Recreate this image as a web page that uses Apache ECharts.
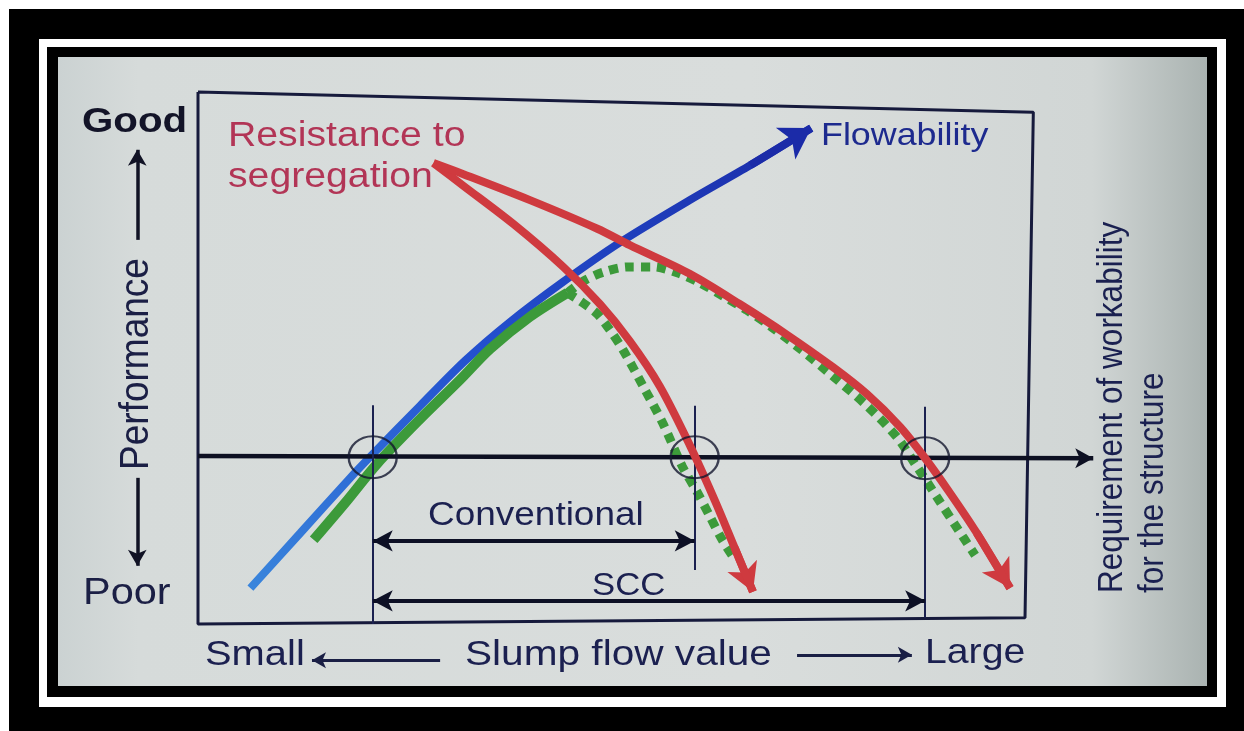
<!DOCTYPE html>
<html>
<head>
<meta charset="utf-8">
<title>Slump flow value and performance</title>
<script src="https://cdn.jsdelivr.net/npm/echarts@6/dist/echarts.min.js"></script>
<style>
  html, body { margin: 0; padding: 0; background: #fff; }
  #chart { width: 1244px; height: 731px; }
</style>
</head>
<body>
<div id="chart"></div>
<script>
// diagram units: x = slump flow (frame spans 0..100), y = performance (frame spans 0..100)
const flowability = [[6.3,6.4],[12.3,16.8],[18.3,27.2],[20.9,31.5],[26.7,40.8],[32.1,49.3],
  [37.5,56.6],[43.9,64.2],[50.8,71.7],[59.1,79.6],[66.4,86.2],[73.7,93.2]];
const segConventional = [[28.3,86.6],[31.9,82.3],[37.9,75.1],[43.9,67.0],[48.3,60.0],[51.9,53.0],
  [55.5,44.5],[59.1,33.4],[62.1,23.0],[64.5,14.0],[66.7,5.7]];
const segScc = [[28.3,86.6],[31.9,84.5],[39.9,79.6],[48.0,74.2],[51.9,71.1],[59.1,65.7],[65.1,60.0],
  [70.7,54.3],[76.3,48.1],[80.4,43.0],[84.4,36.8],[87.4,30.9],[90.4,24.3],[93.6,16.8],[97.6,6.4]];
const perfRising = [[13.9,15.5],[17.7,22.5],[21.5,29.8],[26.7,38.3],[31.5,45.7],[35.1,51.5],
  [39.9,57.6],[44.4,62.1]];
const perfScc = [[44.4,62.1],[46.3,64.3],[48.7,66.0],[51.7,67.0],[54.7,67.0],[57.6,65.9],[60.3,64.0],
  [63.1,61.5],[65.9,58.9],[68.9,55.7],[72.4,51.5],[76.3,46.4],[80.4,40.8],[84.0,34.9],[86.2,29.8],
  [88.8,23.6],[91.0,18.3],[93.4,12.6]];
const perfConventional = [[44.4,62.1],[45.9,60.6],[48.0,58.1],[49.5,55.1],[51.1,51.3],[53.6,44.2],
  [55.9,37.4],[58.2,29.4],[60.0,24.5],[61.5,20.0],[63.0,15.5],[64.4,12.1]];

const frame = [[0,100],[100.4,96.2],[99.4,0.8],[0,-0.4],[0,100]];
const requirement = [[0,31.3],[107.6,30.9]];
const crossings = [[21.0,31.1],[59.7,31.1],[87.4,30.9]];
const crossingTicks = [[[21.0,40.9],[21.0,-0.4]],[[59.7,40.8],[59.7,9.8]],[[87.4,40.6],[87.4,0.8]]];
const conventionalSpan = [[21.0,15.3],[59.7,15.3]];
const sccSpan = [[21.0,4.0],[87.4,4.0]];
const perfUp = [[-7.3,72.1],[-7.3,89.1]];
const perfDown = [[-7.3,27.2],[-7.3,10.6]];
const slumpSmall = [[29.1,-7.2],[13.7,-7.2]];
const slumpLarge = [[72.0,-6.2],[85.8,-6.2]];

const INK = '#161a3c';
const RED = '#cf3a3f';
const GREEN = '#3c9a3a';
const FONT = '"Liberation Sans", Arial, sans-serif';

function seg(p, q, s0, s1) {
  return [{ coord: p, symbol: s0 }, { coord: q, symbol: s1 }];
}

function straight(segs, color, width, size, z) {
  return {
    type: 'line', data: [], z: z, silent: true,
    markLine: {
      silent: true, animation: false, symbolSize: size,
      label: { show: false }, emphasis: { disabled: true },
      lineStyle: { color: color, width: width, type: 'solid' },
      data: segs
    }
  };
}

function curve(data, color, width, z, dash, arrowSize, arrowColor) {
  const s = {
    type: 'line', data: data, smooth: 0.3, symbol: 'none', z: z, silent: true,
    lineStyle: { color: color, width: width, type: dash || 'solid', cap: 'butt' }
  };
  if (arrowSize) {
    const n = data.length;
    s.markLine = {
      silent: true, animation: false, symbolSize: arrowSize,
      label: { show: false }, emphasis: { disabled: true },
      lineStyle: { color: arrowColor || color, width: width, type: 'solid' },
      data: [seg(data[n - 2], data[n - 1], 'none', 'arrow')]
    };
  }
  return s;
}

function label(text, x, y, size, color, opts) {
  opts = opts || {};
  return {
    type: 'text', x: x, y: y, z: 100, silent: true,
    rotation: opts.rotation || 0, scaleX: opts.sx || 1, scaleY: opts.sy || 1,
    style: {
      text: text, fill: color,
      font: (opts.weight || 'normal') + ' ' + size + 'px ' + FONT,
      align: opts.align || 'left', verticalAlign: 'middle',
      textAlign: opts.align || 'left', textVerticalAlign: 'middle'
    }
  };
}

const blueGrad = new echarts.graphic.LinearGradient(0, 1, 1, 0, [
  { offset: 0, color: '#3a86dc' }, { offset: 0.45, color: '#2350cf' }, { offset: 1, color: '#1b2ba8' }
]);
const slideGrad = new echarts.graphic.LinearGradient(0, 0, 1, 0, [
  { offset: 0, color: '#cbd2d2' }, { offset: 0.07, color: '#d6dbda' }, { offset: 0.6, color: '#d9dddc' },
  { offset: 0.9, color: '#d1d6d5' }, { offset: 1, color: '#aab3b1' }
]);

const chart = echarts.init(document.getElementById('chart'));
chart.setOption({
  backgroundColor: '#ffffff',
  animation: false,
  grid: { left: 31.6, right: 130.8, top: 65.5, bottom: 29.5 },
  xAxis: { type: 'value', min: -20, max: 110, show: false },
  yAxis: { type: 'value', min: -15, max: 105, show: false },
  graphic: [
    { type: 'rect', z: 0, silent: true, shape: { x: 9, y: 9, width: 1235, height: 722 }, style: { fill: '#000' } },
    { type: 'rect', z: 0, silent: true, shape: { x: 39, y: 39, width: 1187, height: 668 }, style: { fill: '#fff' } },
    { type: 'rect', z: 0, silent: true, shape: { x: 47, y: 47, width: 1170, height: 650 }, style: { fill: '#000' } },
    { type: 'rect', z: 0, silent: true, shape: { x: 58, y: 57, width: 1149, height: 629 }, style: { fill: slideGrad } },
    label('Good', 82, 122, 35, '#131428', { weight: 'bold', sx: 1.15 }),
    label('Poor', 83, 594, 37, '#1b1f45', { sx: 1.12 }),
    label('Performance', 137, 364, 37, '#1b1f45', { rotation: Math.PI / 2, align: 'center', sy: 1.1 }),
    label('Resistance to', 228, 136, 35, '#b23556', { sx: 1.12 }),
    label('segregation', 228, 177, 35, '#b23556', { sx: 1.12 }),
    label('Flowability', 821, 136, 32, '#1d2a8e', { sx: 1.12 }),
    label('Conventional', 428, 516, 33, '#1b2050', { sx: 1.12 }),
    label('SCC', 592, 586, 31, '#1b2050', { sx: 1.12 }),
    label('Small', 205, 655, 35, '#1b2050', { sx: 1.14 }),
    label('Slump flow value', 465, 655, 35, '#1b2050', { sx: 1.16 }),
    label('Large', 925, 653, 35, '#1b2050', { sx: 1.12 }),
    label('Requirement of workability', 1112, 593, 31.5, '#1a2050', { rotation: Math.PI / 2, sy: 1.1 }),
    label('for the structure', 1153, 593, 31.5, '#1a2050', { rotation: Math.PI / 2, sy: 1.1 })
  ],
  series: [
    { type: 'line', data: frame, symbol: 'none', z: 2, silent: true, lineStyle: { color: INK, width: 3 } },
    straight([seg(requirement[0], requirement[1], 'none', 'arrow')], '#0d1022', 4.5, [15, 18], 2),
    straight(crossingTicks.map(t => seg(t[0], t[1], 'none', 'none')), '#1b2150', 2, 10, 2),
    straight([seg(conventionalSpan[0], conventionalSpan[1], 'arrow', 'arrow'),
              seg(sccSpan[0], sccSpan[1], 'arrow', 'arrow')], '#0d1025', 4, [16, 20], 2),
    straight([seg(perfUp[0], perfUp[1], 'none', 'arrow'),
              seg(perfDown[0], perfDown[1], 'none', 'arrow')], '#111325', 3.5, [14, 16], 2),
    straight([seg(slumpSmall[0], slumpSmall[1], 'none', 'arrow'),
              seg(slumpLarge[0], slumpLarge[1], 'none', 'arrow')], '#1a1f45', 3, [12, 14], 2),
    curve(flowability, blueGrad, 8, 3, 'solid', [28, 30], '#1b2ba8'),
    curve(perfRising, GREEN, 10, 4),
    curve(perfScc, GREEN, 9, 4, [9, 7]),
    curve(perfConventional, GREEN, 9, 4, [9, 7]),
    curve(segConventional, RED, 8, 5, 'solid', [24, 28]),
    curve(segScc, RED, 8, 5, 'solid', [24, 28]),
    {
      type: 'scatter', data: crossings, z: 6, silent: true, symbol: 'circle', symbolSize: [48, 42],
      itemStyle: { color: 'rgba(0,0,0,0)', borderColor: '#13162e', borderWidth: 2.2 }
    }
  ]
});
</script>
</body>
</html>
